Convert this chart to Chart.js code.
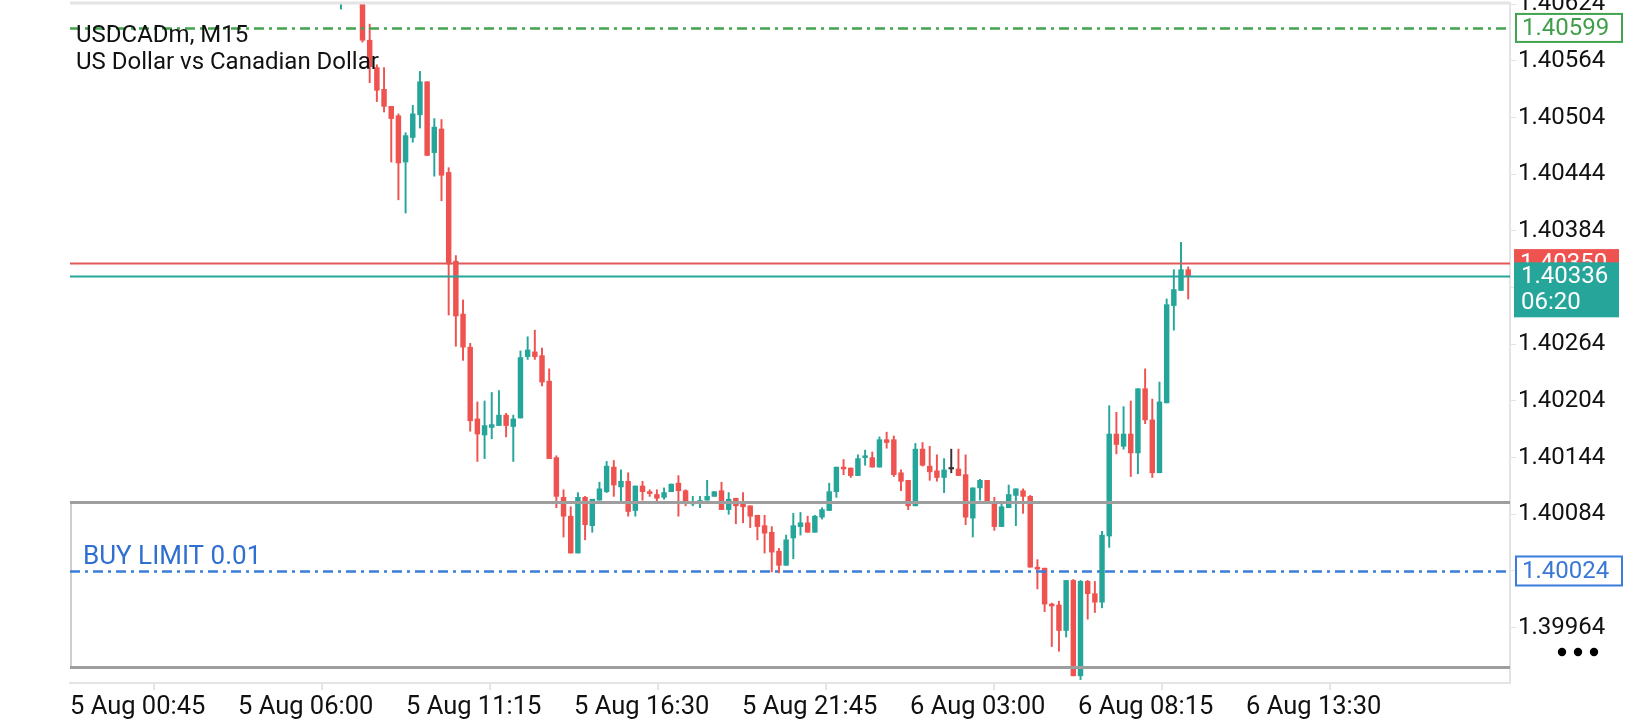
<!DOCTYPE html>
<html>
<head>
<meta charset="utf-8">
<title>USDCADm, M15</title>
<script src="https://cdn.jsdelivr.net/npm/chart.js@4.4.1/dist/chart.umd.min.js"></script>
<style>
  html, body { margin: 0; padding: 0; background: #fff; }
  #wrap { width: 1640px; height: 720px; }
</style>
</head>
<body>
<div id="wrap"><canvas id="chart" width="1640" height="720"></canvas></div>
<script>
// --- Data ---
const symbolName = 'USDCADm, M15';
const symbolDesc = 'US Dollar vs Canadian Dollar';
const xTickLabels = ['5 Aug 00:45', '5 Aug 06:00', '5 Aug 11:15', '5 Aug 16:30',
                     '5 Aug 21:45', '6 Aug 03:00', '6 Aug 08:15', '6 Aug 13:30'];
const yTickValues = [1.39964, 1.40024, 1.40084, 1.40144, 1.40204, 1.40264,
                     1.40324, 1.40384, 1.40444, 1.40504, 1.40564, 1.40624];

// bars before the first visible candle are above the visible price range
const firstBar = 37;
const opens  = [1.40632, null, null, 1.40640, 1.40586, 1.40557, 1.40534, 1.40516, 1.40506, 1.40457,
                1.40483, 1.40507, 1.40542, 1.40467, 1.40492, 1.40446, 1.40352, 1.40296, 1.40261, 1.40185,
                1.40168, 1.40176, 1.40178, 1.40189, 1.40177, 1.40186, 1.40251, 1.40256, 1.40252, 1.40225,
                1.40144, 1.40102, 1.40082, 1.40043, 1.40102, 1.40072, 1.40099, 1.40108, 1.40134, 1.40113,
                1.40119, 1.40088, 1.40114, 1.40108, 1.40105, 1.40102, 1.40108, 1.40117, 1.40109, 1.40095,
                1.40097, 1.40099, 1.40103, 1.40109, 1.40089, 1.40101, 1.40096, 1.40093, 1.40083, 1.40072,
                1.40065, 1.40045, 1.40030, 1.40059, 1.40071, 1.40075, 1.40065, 1.40081, 1.40088, 1.40108,
                1.40134, 1.40133, 1.40125, 1.40144, 1.40144, 1.40134, 1.40163, 1.40163, 1.40128, 1.40120,
                1.40093, 1.40153, 1.40135, 1.40130, 1.40123, 1.40132, 1.40132, 1.40126, 1.40080, 1.40112,
                1.40120, 1.40095, 1.40071, 1.40091, 1.40104, 1.40109, 1.40103, 1.40028, 1.40027, 1.39989,
                1.39988, 1.39961, 1.40014, 1.39913, 1.40013, 1.40000, 1.39991, 1.40061, 1.40169, 1.40156,
                1.40169, 1.40149, 1.40217, 1.40184, 1.40128, 1.40202, 1.40305, 1.40321, 1.40343];
const highs  = [1.40660, null, null, 1.40650, 1.40603, 1.40560, 1.40557, 1.40516, 1.40508, 1.40488,
                1.40517, 1.40553, 1.40542, 1.40503, 1.40502, 1.40451, 1.40358, 1.40311, 1.40265, 1.40203,
                1.40204, 1.40213, 1.40215, 1.40191, 1.40189, 1.40257, 1.40272, 1.40279, 1.40260, 1.40238,
                1.40146, 1.40110, 1.40092, 1.40107, 1.40103, 1.40100, 1.40118, 1.40140, 1.40141, 1.40131,
                1.40128, 1.40114, 1.40119, 1.40110, 1.40110, 1.40112, 1.40116, 1.40125, 1.40110, 1.40103,
                1.40103, 1.40120, 1.40108, 1.40118, 1.40107, 1.40101, 1.40107, 1.40093, 1.40083, 1.40083,
                1.40071, 1.40048, 1.40062, 1.40085, 1.40086, 1.40082, 1.40083, 1.40091, 1.40117, 1.40134,
                1.40142, 1.40133, 1.40147, 1.40152, 1.40150, 1.40166, 1.40171, 1.40167, 1.40131, 1.40120,
                1.40159, 1.40160, 1.40156, 1.40147, 1.40143, 1.40153, 1.40153, 1.40147, 1.40112, 1.40121,
                1.40120, 1.40102, 1.40095, 1.40115, 1.40111, 1.40111, 1.40104, 1.40036, 1.40027, 1.39990,
                1.39992, 1.40014, 1.40015, 1.40014, 1.40014, 1.40013, 1.40066, 1.40199, 1.40192, 1.40198,
                1.40204, 1.40217, 1.40238, 1.40206, 1.40224, 1.40312, 1.40343, 1.40372, 1.40346];
const lows   = [1.40619, null, null, 1.40584, 1.40541, 1.40521, 1.40510, 1.40457, 1.40417, 1.40403,
                1.40478, 1.40493, 1.40464, 1.40442, 1.40416, 1.40295, 1.40262, 1.40247, 1.40172, 1.40140,
                1.40143, 1.40164, 1.40178, 1.40166, 1.40140, 1.40186, 1.40248, 1.40248, 1.40220, 1.40143,
                1.40091, 1.40060, 1.40043, 1.40043, 1.40057, 1.40065, 1.40099, 1.40107, 1.40103, 1.40098,
                1.40082, 1.40082, 1.40099, 1.40103, 1.40098, 1.40100, 1.40108, 1.40082, 1.40093, 1.40093,
                1.40091, 1.40099, 1.40103, 1.40089, 1.40084, 1.40074, 1.40075, 1.40070, 1.40057, 1.40043,
                1.40023, 1.40022, 1.40030, 1.40037, 1.40062, 1.40065, 1.40065, 1.40079, 1.40088, 1.40102,
                1.40126, 1.40123, 1.40125, 1.40136, 1.40134, 1.40134, 1.40154, 1.40124, 1.40109, 1.40089,
                1.40093, 1.40135, 1.40120, 1.40119, 1.40107, 1.40128, 1.40125, 1.40073, 1.40060, 1.40099,
                1.40097, 1.40067, 1.40071, 1.40091, 1.40072, 1.40085, 1.40028, 1.40005, 1.39981, 1.39944,
                1.39939, 1.39954, 1.39913, 1.39909, 1.39973, 1.39980, 1.39985, 1.40049, 1.40148, 1.40153,
                1.40124, 1.40127, 1.40180, 1.40123, 1.40128, 1.40202, 1.40279, 1.40321, 1.40312];
const closes = [1.40650, null, null, 1.40586, 1.40558, 1.40533, 1.40516, 1.40503, 1.40456, 1.40485,
                1.40508, 1.40542, 1.40464, 1.40494, 1.40443, 1.40349, 1.40294, 1.40261, 1.40183, 1.40169,
                1.40178, 1.40179, 1.40189, 1.40178, 1.40185, 1.40250, 1.40258, 1.40251, 1.40224, 1.40143,
                1.40103, 1.40082, 1.40043, 1.40102, 1.40073, 1.40100, 1.40111, 1.40135, 1.40115, 1.40119,
                1.40087, 1.40114, 1.40108, 1.40106, 1.40101, 1.40107, 1.40116, 1.40109, 1.40096, 1.40096,
                1.40098, 1.40103, 1.40108, 1.40089, 1.40100, 1.40093, 1.40092, 1.40082, 1.40071, 1.40064,
                1.40044, 1.40030, 1.40057, 1.40072, 1.40075, 1.40065, 1.40082, 1.40089, 1.40108, 1.40134,
                1.40132, 1.40125, 1.40143, 1.40146, 1.40134, 1.40163, 1.40160, 1.40126, 1.40119, 1.40093,
                1.40153, 1.40136, 1.40129, 1.40123, 1.40131, 1.40132, 1.40125, 1.40081, 1.40112, 1.40120,
                1.40097, 1.40071, 1.40092, 1.40105, 1.40111, 1.40103, 1.40028, 1.40026, 1.39989, 1.39987,
                1.39961, 1.40014, 1.39913, 1.40013, 1.40000, 1.39991, 1.40062, 1.40169, 1.40158, 1.40169,
                1.40149, 1.40217, 1.40184, 1.40128, 1.40203, 1.40306, 1.40322, 1.40343, 1.40336];

// price levels drawn across the chart
const stopLevel = 1.40599;     // green dash-dot
const askPrice = 1.40350;      // red line
const bidPrice = 1.40336;      // teal line
const buyLimitPrice = 1.40024; // blue dash-dot
const buyLimitText = 'BUY LIMIT 0.01';
const zoneTop = 1.40097;       // grey rectangle
const zoneBottom = 1.39922;
const barTimer = '06:20';

// --- Look ---
const UP = '#26a69a';
const DOWN = '#ef5350';
const DOJI = '#333333';
const FRAME = '#e4e4e4';
const xMin = -0.74, xMax = 199.82;   // visible bar window
const yMin = 1.399054, yMax = 1.406254;
const labelStep = 23.4;              // bars between time labels

Chart.defaults.font.family = 'Roboto, "Noto Sans", sans-serif';
Chart.defaults.color = '#111';

// --- Candles ---
const candles = [];
opens.forEach((o, k) => {
    if (o === null) return;
    candles.push({ x: firstBar + k, o: o, h: highs[k], l: lows[k], c: closes[k] });
});
const candleColor = c => c.c > c.o ? UP : (c.c < c.o ? DOWN : DOJI);
const colors = candles.map(candleColor);

// --- Overlay: price lines, labels, text ---
function hLine(chart, value, color, width, dash) {
    const { ctx, chartArea: a, scales: { y } } = chart;
    const py = Math.round(y.getPixelForValue(value)) + 0.5;
    ctx.save();
    ctx.strokeStyle = color;
    ctx.lineWidth = width;
    ctx.setLineDash(dash || []);
    ctx.beginPath();
    ctx.moveTo(a.left, py);
    ctx.lineTo(a.right, py);
    ctx.stroke();
    ctx.restore();
    return py;
}

function priceBox(ctx, x, cy, w, h, opts) {
    ctx.save();
    ctx.fillStyle = opts.fill || '#fff';
    ctx.fillRect(x, cy - h / 2, w, h);
    if (opts.stroke) {
        ctx.strokeStyle = opts.stroke;
        ctx.lineWidth = 2;
        ctx.strokeRect(x, cy - h / 2, w, h);
    }
    ctx.fillStyle = opts.color;
    ctx.font = '24px Roboto';
    ctx.textBaseline = 'middle';
    ctx.textAlign = 'left';
    ctx.fillText(opts.text, x + 6, cy + 1);
    ctx.restore();
}

const overlay = {
    id: 'overlay',
    afterDatasetsDraw(chart) {
        const { ctx, chartArea: a } = chart;

        // frame top
        ctx.save();
        ctx.strokeStyle = FRAME;
        ctx.lineWidth = 3;
        ctx.beginPath();
        ctx.moveTo(a.left, a.top);
        ctx.lineTo(a.right, a.top);
        ctx.stroke();
        ctx.restore();

        // grey zone
        const zt = hLine(chart, zoneTop, '#9e9e9e', 3);
        const zb = hLine(chart, zoneBottom, '#9e9e9e', 3);
        ctx.save();
        ctx.strokeStyle = '#9e9e9e';
        ctx.lineWidth = 1;
        ctx.beginPath();
        ctx.moveTo(a.left + 1, zt);
        ctx.lineTo(a.left + 1, zb);
        ctx.stroke();
        ctx.restore();

        hLine(chart, askPrice, '#e05a5a', 2);
        hLine(chart, bidPrice, UP, 2);
        hLine(chart, stopLevel, '#43a34f', 2.5, [10, 5, 3, 5]);
        hLine(chart, buyLimitPrice, '#3b7ddd', 2.5, [10, 5, 3, 5]);
    },
    afterDraw(chart) {
        const { ctx, chartArea: a, scales: { y } } = chart;

        // symbol info
        ctx.save();
        ctx.fillStyle = '#111';
        ctx.font = '24px Roboto';
        ctx.textBaseline = 'alphabetic';
        ctx.fillText(symbolName, 76, 42);
        ctx.fillText(symbolDesc, 76, 69);

        // order label
        ctx.fillStyle = '#2f6fd0';
        ctx.font = '26px Roboto';
        ctx.fillText(buyLimitText, 83, 564);
        ctx.restore();

        // price tags on the axis
        const boxX = a.right + 6;
        priceBox(ctx, boxX, y.getPixelForValue(stopLevel), 106, 28,
            { stroke: '#43a34f', color: '#3f9e4a', text: stopLevel.toFixed(5) });
        priceBox(ctx, boxX, y.getPixelForValue(buyLimitPrice), 106, 29,
            { stroke: '#3b7ddd', color: '#3b78d6', text: buyLimitPrice.toFixed(5) });
        priceBox(ctx, a.right + 4, y.getPixelForValue(askPrice), 105, 28,
            { fill: DOWN, color: '#fff', text: askPrice.toFixed(5) });

        const by = y.getPixelForValue(bidPrice);
        ctx.save();
        ctx.fillStyle = UP;
        ctx.fillRect(a.right + 4, by - 14, 105, 55);
        ctx.fillStyle = '#fff';
        ctx.font = '24px Roboto';
        ctx.textBaseline = 'middle';
        ctx.fillText(bidPrice.toFixed(5), a.right + 11, by + 1);
        ctx.fillText(barTimer, a.right + 11, by + 27);

        // menu dots
        ctx.fillStyle = '#000';
        [0, 1, 2].forEach(i => {
            ctx.beginPath();
            ctx.arc(1562 + i * 16, 652, 4.2, 0, Math.PI * 2);
            ctx.fill();
        });
        ctx.restore();
    }
};

// --- Chart ---
new Chart(document.getElementById('chart'), {
    type: 'bar',
    data: {
        datasets: [{
            label: 'wick',
            data: candles.map(c => ({ x: c.x, y: [c.l, c.h] })),
            backgroundColor: colors,
            barThickness: 1.3,
            grouped: false,
            clip: 0
        }, {
            label: 'body',
            data: candles.map(c => ({ x: c.x, y: [c.o, c.c] })),
            backgroundColor: colors,
            barThickness: 4.8,
            minBarLength: 1.5,
            grouped: false,
            clip: 0
        }]
    },
    options: {
        responsive: false,
        animation: false,
        layout: { padding: { left: 70, top: 3, right: 0, bottom: 0 } },
        plugins: {
            legend: { display: false },
            tooltip: { enabled: false }
        },
        scales: {
            x: {
                type: 'linear',
                min: xMin,
                max: xMax,
                offset: false,
                border: { color: FRAME, width: 2 },
                grid: { drawOnChartArea: false, tickLength: 7, color: FRAME, lineWidth: 2 },
                ticks: {
                    autoSkip: false,
                    maxRotation: 0,
                    align: 'start',
                    padding: 2,
                    color: '#111',
                    font: { size: 25.5 },
                    callback: (v, i) => xTickLabels[i]
                },
                afterBuildTicks: s => {
                    s.ticks = xTickLabels.map((_, j) => ({ value: xMin + j * labelStep }));
                },
                afterFit: s => {
                    s.height = 37;
                    s.paddingLeft = 0;
                    s.paddingRight = 0;
                }
            },
            y: {
                position: 'right',
                min: yMin,
                max: yMax,
                border: { color: FRAME, width: 2 },
                grid: { drawOnChartArea: false, tickLength: 6, color: FRAME },
                ticks: {
                    padding: 2,
                    color: '#111',
                    font: { size: 24 },
                    callback: v => v.toFixed(5)
                },
                afterBuildTicks: s => {
                    s.ticks = yTickValues.map(v => ({ value: v }));
                },
                afterFit: s => {
                    s.width = 130;
                    s.paddingTop = 0;
                    s.paddingBottom = 0;
                }
            }
        }
    },
    plugins: [overlay]
});
</script>
</body>
</html>
